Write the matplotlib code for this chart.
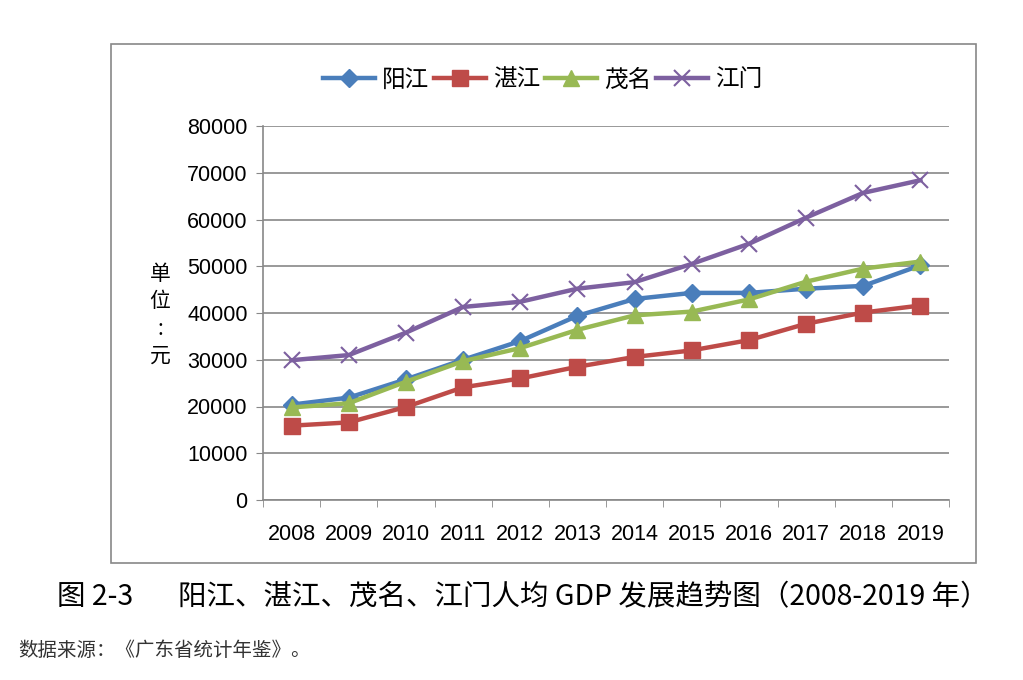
import matplotlib
matplotlib.use('Agg')
import matplotlib.pyplot as plt
from matplotlib.patches import Rectangle
import numpy as np

plt.rcParams['font.family'] = ['Noto Sans CJK SC', 'DejaVu Sans']

years = ['2008', '2009', '2010', '2011', '2012', '2013', '2014', '2015', '2016', '2017', '2018', '2019']
yangjiang = [20400, 21900, 25800, 30000, 34000, 39400, 43000, 44300, 44300, 45200, 45800, 50200]
zhanjiang = [15900, 16600, 19900, 24100, 26000, 28500, 30600, 32000, 34200, 37700, 40100, 41600]
maoming = [19800, 20700, 25300, 29700, 32500, 36400, 39500, 40300, 42900, 46700, 49500, 51000]
jiangmen = [29900, 31000, 35800, 41300, 42400, 45200, 46600, 50500, 54800, 60400, 65700, 68400]
yticks = [0, 10000, 20000, 30000, 40000, 50000, 60000, 70000, 80000]

fig = plt.figure(figsize=(10.23, 6.8), dpi=100)
fig.patches.append(Rectangle((111 / 1023, 1 - 563 / 680), 865 / 1023, 519 / 680,
                             transform=fig.transFigure, fill=False,
                             edgecolor='#888888', linewidth=1.2))

ax = fig.add_axes([263 / 1023, 1 - 500 / 680, 686 / 1023, 374 / 680])
x = np.arange(len(years))

lw = 3.2
ax.plot(x, yangjiang, color='#4a7ebb', lw=lw, marker='D', ms=9, label='阳江', zorder=3)
ax.plot(x, zhanjiang, color='#be4b48', lw=lw, marker='s', ms=11, label='湛江', zorder=3)
ax.plot(x, maoming, color='#98b954', lw=lw, marker='^', ms=12, label='茂名', zorder=3)
ax.plot(x, jiangmen, color='#7d60a0', lw=lw, marker='x', ms=12, mew=1.5, label='江门', zorder=3)

ax.set_xlim(-0.5, 11.5)
ax.set_ylim(0, 80000)
ax.set_yticks(yticks)
ax.set_yticklabels([str(v) for v in yticks], fontsize=15.5, family='Liberation Sans')
ax.set_xticks(x)
ax.set_xticklabels(years, fontsize=15.5, family='Liberation Sans')
ax.set_xticks(np.arange(-0.5, 12, 1), minor=True)
ax.tick_params(axis='x', which='major', length=0, pad=17)
ax.tick_params(axis='x', which='minor', length=5, color='#888888')
ax.tick_params(axis='y', length=5, color='#888888', pad=6)
ax.grid(axis='y', color='#888888', linewidth=1.2)
ax.set_axisbelow(True)
for s in ['top', 'right']:
    ax.spines[s].set_visible(False)
for s in ['left', 'bottom']:
    ax.spines[s].set_color('#888888')
    ax.spines[s].set_linewidth(1.2)

fig.text(160 / 1023, 1 - 315 / 680, '单\n位\n:\n元', fontsize=15, ha='center', va='center',
         linespacing=1.3)

ax.legend(loc='center', bbox_to_anchor=(543 / 1023, 1 - 80 / 680), bbox_transform=fig.transFigure,
          ncol=4, frameon=False, fontsize=17, handlelength=2.2, handletextpad=0.3,
          columnspacing=0.2)

fig.text(57 / 1023, 1 - 597 / 680, '图 2-3', fontsize=20.5, fontweight='medium',
         ha='left', va='center')
fig.text(178 / 1023, 1 - 597 / 680, '阳江、湛江、茂名、江门人均 GDP 发展趋势图（2008-2019 年）',
         fontsize=20.5, fontweight='medium', ha='left', va='center')
fig.text(18 / 1023, 1 - 651 / 680, '数据来源：《广东省统计年鉴》。', fontsize=14, ha='left', va='center',
         color='#333333')

fig.savefig('out.png', dpi=100)
